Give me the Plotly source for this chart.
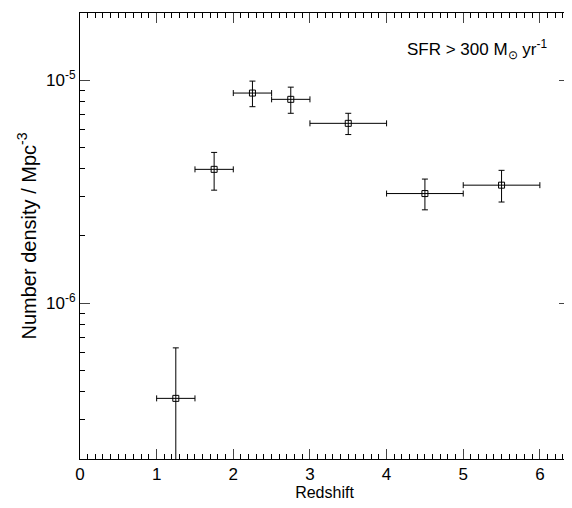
import plotly.graph_objects as go

z = [1.25, 1.75, 2.25, 2.75, 3.5, 4.5, 5.5]
zerr = [0.25, 0.25, 0.25, 0.25, 0.5, 0.5, 0.5]
dens = [3.74e-7, 3.98e-6, 8.75e-6, 8.2e-6, 6.4e-6, 3.1e-6, 3.38e-6]
up = [6.3e-7, 4.74e-6, 9.9e-6, 9.3e-6, 7.1e-6, 3.6e-6, 3.94e-6]
lo = [1.0e-7, 3.21e-6, 7.6e-6, 7.1e-6, 5.7e-6, 2.62e-6, 2.84e-6]

fig = go.Figure(go.Scatter(
    x=z, y=dens, mode="markers",
    marker=dict(symbol="square-open", size=6, color="black", line=dict(width=1)),
    error_x=dict(type="data", array=zerr, color="black", thickness=1, width=3),
    error_y=dict(type="data", symmetric=False,
                 array=[u - d for u, d in zip(up, dens)],
                 arrayminus=[d - l for d, l in zip(dens, lo)],
                 color="black", thickness=1, width=3),
))
fig.add_annotation(x=0.96, y=0.95, xref="paper", yref="paper", xanchor="right", yanchor="top",
                   text="SFR > 300 M<sub>⊙</sub> yr<sup>-1</sup>", showarrow=False,
                   font=dict(size=17, color="black"))
fig.update_layout(
    width=572, height=508, margin=dict(l=72, r=11, t=5, b=57),
    plot_bgcolor="white", paper_bgcolor="white", showlegend=False,
    font=dict(family="Liberation Sans, Arial", size=17, color="black"),
)
fig.update_xaxes(range=[0, 6.38], dtick=1, ticks="inside", ticklen=10, mirror="allticks",
                 showline=True, linecolor="black", showgrid=False, zeroline=False, automargin=False,
                 minor=dict(dtick=0.1, ticks="inside", ticklen=5, tickcolor="black"),
                 title=dict(text="Redshift", standoff=2, font=dict(size=16)))
fig.update_yaxes(type="log", range=[-6.699, -4.699], ticks="inside", ticklen=10, mirror="allticks",
                 showline=True, linecolor="black", showgrid=False, automargin=False,
                 tickvals=[1e-6, 1e-5], ticktext=["10<sup>-6</sup>", "10<sup>-5</sup>"],
                 minor=dict(ticks="inside", ticklen=5, tickcolor="black",
                            tickvals=[2e-7,3e-7,4e-7,5e-7,6e-7,7e-7,8e-7,9e-7,2e-6,3e-6,4e-6,5e-6,6e-6,7e-6,8e-6,9e-6]),
                 title=dict(text="Number density / Mpc<sup>-3</sup>", standoff=4))
fig.write_html("out.html")
